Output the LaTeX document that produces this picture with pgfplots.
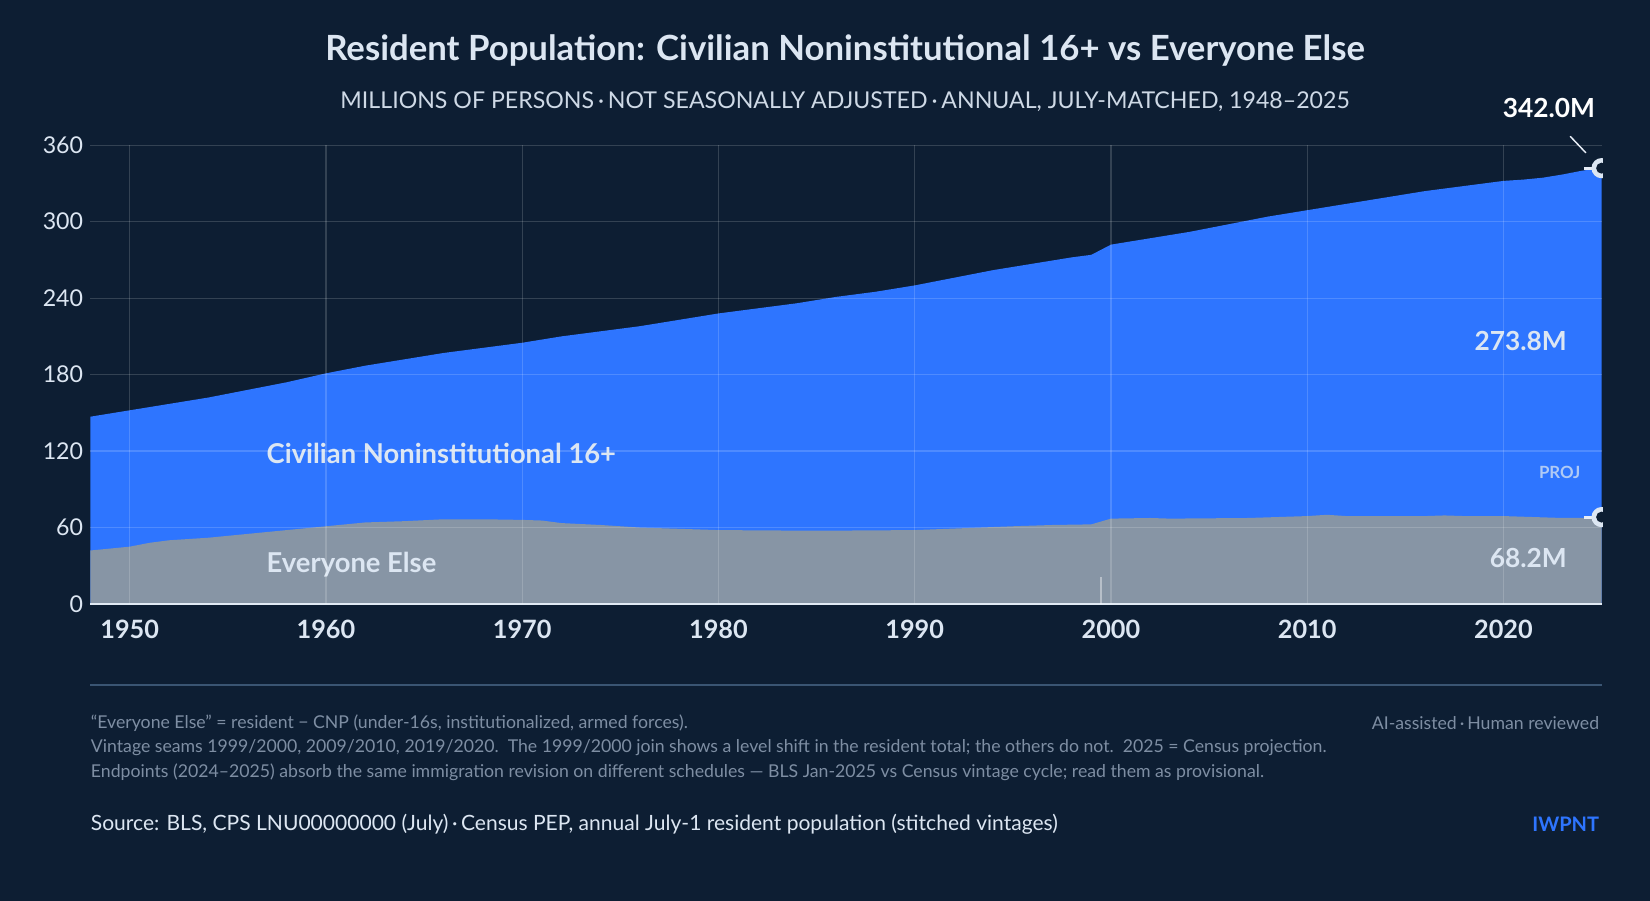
\documentclass[border=0pt]{standalone}
\usepackage{pgfplots}
\pgfplotsset{compat=1.18}
\usepackage{fontspec}
\setmainfont{Lato}
\definecolor{bg}{HTML}{0D1E33}
\definecolor{cblue}{HTML}{2E75FF}
\definecolor{cgray}{HTML}{8795A5}
\definecolor{txt}{HTML}{DCE6F2}
\definecolor{note}{HTML}{7E8EA3}
\definecolor{sep}{HTML}{3A5573}
\begin{document}
\begin{tikzpicture}[x=1pt,y=1pt]
\fill[bg] (0,0) rectangle (784,428);
\begin{axis}[at={(43pt,141pt)},anchor=south west,scale only axis,width=718pt,height=218pt,
  xmin=1948,xmax=2025,ymin=0,ymax=360,clip=false,axis on top,
  axis line style={draw=none},
  xtick={1950,1960,1970,1980,1990,2000,2010,2020},ytick={0,60,120,180,240,300,360},
  xticklabel style={font=\fontsize{12}{12}\selectfont\bfseries,text=txt,yshift=-4pt},
  yticklabel style={font=\fontsize{11}{11}\selectfont,text=txt},
  /pgf/number format/1000 sep={},/pgf/number format/assume math mode=true,
  major tick length=0pt,grid=major,grid style={white,opacity=0.16,line width=0.6pt}]
\addplot[draw=none,fill=cblue] coordinates {(1948,147)(1950,152)(1952,157)(1954,162)(1956,168)(1958,174)(1960,181)(1962,187)(1964,192)(1966,197)(1968,201)(1970,205)(1972,210)(1974,214)(1976,218)(1978,223)(1980,228)(1982,232)(1984,236)(1986,241)(1988,245)(1990,250)(1992,256)(1994,262)(1996,267)(1998,272)(1999,274)(2000,282)(2002,287)(2004,292)(2006,298)(2008,304)(2010,309)(2012,314)(2014,319)(2016,324)(2018,328)(2020,332)(2021,333)(2022,334.5)(2023,337)(2024,340)(2025,342)} \closedcycle;
\addplot[draw=none,fill=cgray] coordinates {(1948,42)(1950,45)(1951,48)(1952,50)(1954,52)(1956,55)(1958,58)(1960,61)(1962,64)(1964,65)(1966,66.5)(1968,66.5)(1970,66)(1971,65.5)(1972,63.5)(1974,62)(1976,60)(1978,59)(1980,58)(1985,57.5)(1990,58)(1995,61)(1997,62)(1999,62.5)(2000,67)(2002,67.5)(2003,67)(2007,67.5)(2010,69)(2011,70)(2012,69)(2016,69)(2017,69.5)(2018,69)(2020,69)(2022,68)(2023,67.5)(2024,67.5)(2025,68.2)} \closedcycle;
\draw[txt,line width=1pt] (axis cs:1948,0) -- (axis cs:2025,0);
\draw[white,opacity=0.4,line width=0.8pt] (axis cs:1999.5,0) -- (axis cs:1999.5,21);
\node[anchor=west,font=\fontsize{13}{13}\selectfont\bfseries,text=txt] at (axis cs:1956.6,118) {Civilian Noninstitutional 16+};
\node[anchor=west,font=\fontsize{13}{13}\selectfont\bfseries,text=txt] at (axis cs:1956.6,31) {Everyone Else};
\node[anchor=east,font=\fontsize{12.5}{12.5}\selectfont\bfseries,text=txt] at (axis cs:2023.6,206) {273.8M};
\node[anchor=east,font=\fontsize{12.5}{12.5}\selectfont\bfseries,text=txt] at (axis cs:2023.6,36) {68.2M};
\node[anchor=east,font=\fontsize{8}{8}\selectfont\bfseries,text=txt!75!cblue] at (axis cs:2024.3,103) {PROJ};
\draw[txt!70,line width=0.7pt] (axis cs:2023.4,367) -- (axis cs:2024.2,354);
\draw[txt!70,line width=1.5pt] (axis cs:2024.1,342) -- (axis cs:2025,342);
\draw[txt!70,line width=1.5pt] (axis cs:2024.1,68.2) -- (axis cs:2025,68.2);
\fill[txt] (axis cs:2025,342) circle (4.8pt);\fill[bg] (axis cs:2025,342) circle (2.6pt);
\fill[txt] (axis cs:2025,68.2) circle (4.8pt);\fill[bg] (axis cs:2025,68.2) circle (2.6pt);
\end{axis}
\fill[bg] (761.5,128) rectangle (790,355);
\node[font=\fontsize{12.5}{12.5}\selectfont\bfseries,text=white] at (736,376.5) {342.0M};
\node[font=\fontsize{16.5}{16.5}\selectfont\bfseries,text=txt] at (401.5,404) {Resident Population: Civilian Noninstitutional 16+ vs Everyone Else};
\node[font=\fontsize{11}{11}\selectfont,text=txt!85!note] at (401.5,379.5) {MILLIONS OF PERSONS\,·\,NOT SEASONALLY ADJUSTED\,·\,ANNUAL, JULY-MATCHED, 1948–2025};
\draw[sep,line width=1pt] (43,102.5) -- (761,102.5);
\begin{scope}[every node/.style={anchor=west,font=\fontsize{8.4}{8.4}\selectfont,text=note,inner sep=0pt}]
\node at (43,84.5) {“Everyone Else” = resident − CNP (under-16s, institutionalized, armed forces).};
\node at (43,73) {Vintage seams 1999/2000, 2009/2010, 2019/2020.\ \ The 1999/2000 join shows a level shift in the resident total; the others do not.\ \ 2025 = Census projection.};
\node at (43,61) {Endpoints (2024–2025) absorb the same immigration revision on different schedules — BLS Jan-2025 vs Census vintage cycle; read them as provisional.};
\node[anchor=east] at (760,84.5) {AI-assisted\,·\,Human reviewed};
\end{scope}
\node[anchor=west,inner sep=0pt,font=\fontsize{10}{10}\selectfont,text=txt] at (43,36.5) {Source: BLS, CPS LNU00000000 (July)\,·\,Census PEP, annual July-1 resident population (stitched vintages)};
\node[anchor=east,inner sep=0pt,font=\fontsize{9.5}{9.5}\selectfont\bfseries,text=cblue] at (760,36.5) {IWPNT};
\pgfresetboundingbox
\useasboundingbox (0,0) rectangle (784,428);
\end{tikzpicture}
\end{document}
